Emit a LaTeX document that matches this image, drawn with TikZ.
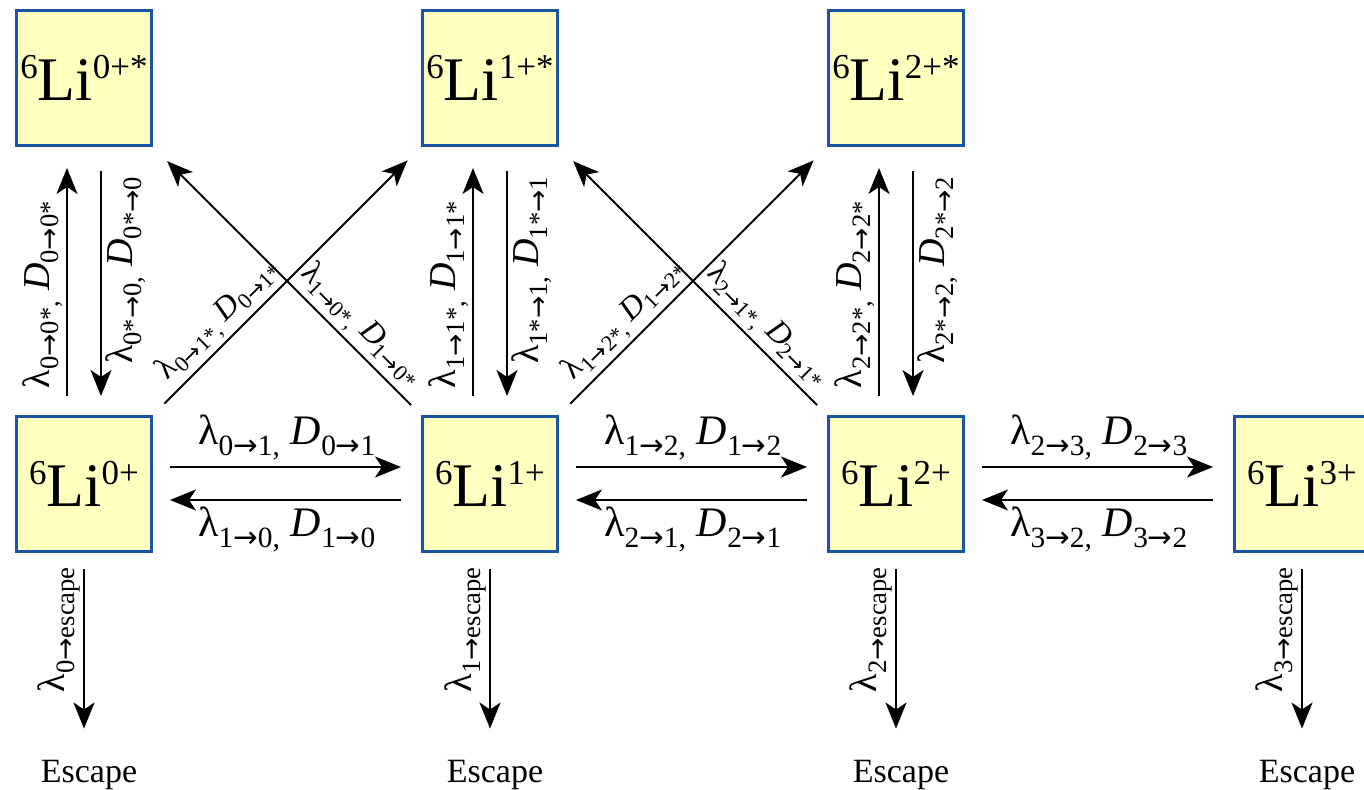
\documentclass[tikz,border=0pt]{standalone}
\usepackage{fontspec}
\setmainfont{Liberation Serif}
\newfontfamily\arrowfont{DejaVu Sans}
\usetikzlibrary{arrows.meta, positioning}
\usepackage{xcolor}
\definecolor{ionedge}{RGB}{28,84,164}
\definecolor{ionfill}{RGB}{255,255,192}
\newcommand{\ra}{{\arrowfont →}}
\newcommand{\rates}[1]{λ\textsubscript{#1,} \textit{D}\textsubscript{#1}}
\newcommand{\ion}[1]{\raisebox{22pt}{\fontsize{35}{35}\selectfont 6}Li\raisebox{22pt}{\fontsize{35}{35}\selectfont #1}}

\begin{document}
\begin{tikzpicture}[x=1pt, y=-1pt,
  ion/.style={draw=ionedge, fill=ionfill, line width=3pt, minimum size=135pt, inner sep=0pt, font=\fontsize{62}{66}\selectfont},
  flow/.style={line width=2pt, -{Stealth[length=26pt, width=21pt, inset=7pt]}},
  wolf/.style={line width=2pt, {Stealth[length=26pt, width=21pt, inset=7pt]}-},
  rate/.style={font=\fontsize{42}{46}\selectfont},
  vrate/.style={font=\fontsize{38}{42}\selectfont},
  cross/.style={font=\fontsize{32}{36}\selectfont},
  esc/.style={font=\fontsize{34}{38}\selectfont, inner sep=0pt}]
  \useasboundingbox (0,0) rectangle (1364,789);
  % états excités en haut, états fondamentaux en bas
  \foreach \i in {0,1,2}
    \node[ion] (t\i) at (84+406*\i,78) {\ion{\i+*}};
  \foreach \i in {0,...,3} {
    \node[ion] (b\i) at (84+406*\i,484) {\ion{\i+}};
    \node[esc, anchor=base] (e\i) at (89+406*\i,782) {Escape};
    \draw[flow, shorten <=16pt, shorten >=31pt] (b\i.south) -- node[vrate, rotate=90, anchor=south, pos=0.37] {λ\textsubscript{\i\ra escape}} (b\i.south |- e\i.north);
  }
  % excitation / désexcitation
  \foreach \i in {0,1,2} {
    \draw[flow, shorten <=19pt, shorten >=21pt] ([xshift=-17pt]b\i.north) -- node[vrate, sloped, above, pos=0.45] {\rates{\i\ra\i*}} ([xshift=-17pt]t\i.south);
    \draw[wolf, shorten <=19pt, shorten >=24pt] ([xshift=17pt]b\i.north) -- node[vrate, sloped, below, pos=0.54] {\rates{\i*\ra\i}} ([xshift=17pt]t\i.south);
  }
  % ionisation / recombinaison
  \foreach \i [evaluate=\i as \j using int(\i+1)] in {0,1,2} {
    \draw[flow, shorten <=17pt, shorten >=20pt] ([yshift=17pt]b\i.east) -- node[rate, above=3pt] {\rates{\i\ra\j}} ([yshift=17pt]b\j.west);
    \draw[wolf, shorten <=17pt, shorten >=20pt] ([yshift=-16pt]b\i.east) -- node[rate, below=3pt] {\rates{\j\ra\i}} ([yshift=-16pt]b\j.west);
  }
  \foreach \i [evaluate=\i as \j using int(\i+1)] in {0,1} {
    \draw[flow, shorten <=16pt, shorten >=19pt] (b\i.north east) -- node[cross, sloped, above, pos=0.3] {\rates{\i\ra\j*}} (t\j.south west);
    \draw[wolf, shorten <=20pt, shorten >=14pt] (t\i.south east) -- node[cross, sloped, above, pos=0.72] {\rates{\j\ra\i*}} (b\j.north west);
  }
\end{tikzpicture}
\end{document}
